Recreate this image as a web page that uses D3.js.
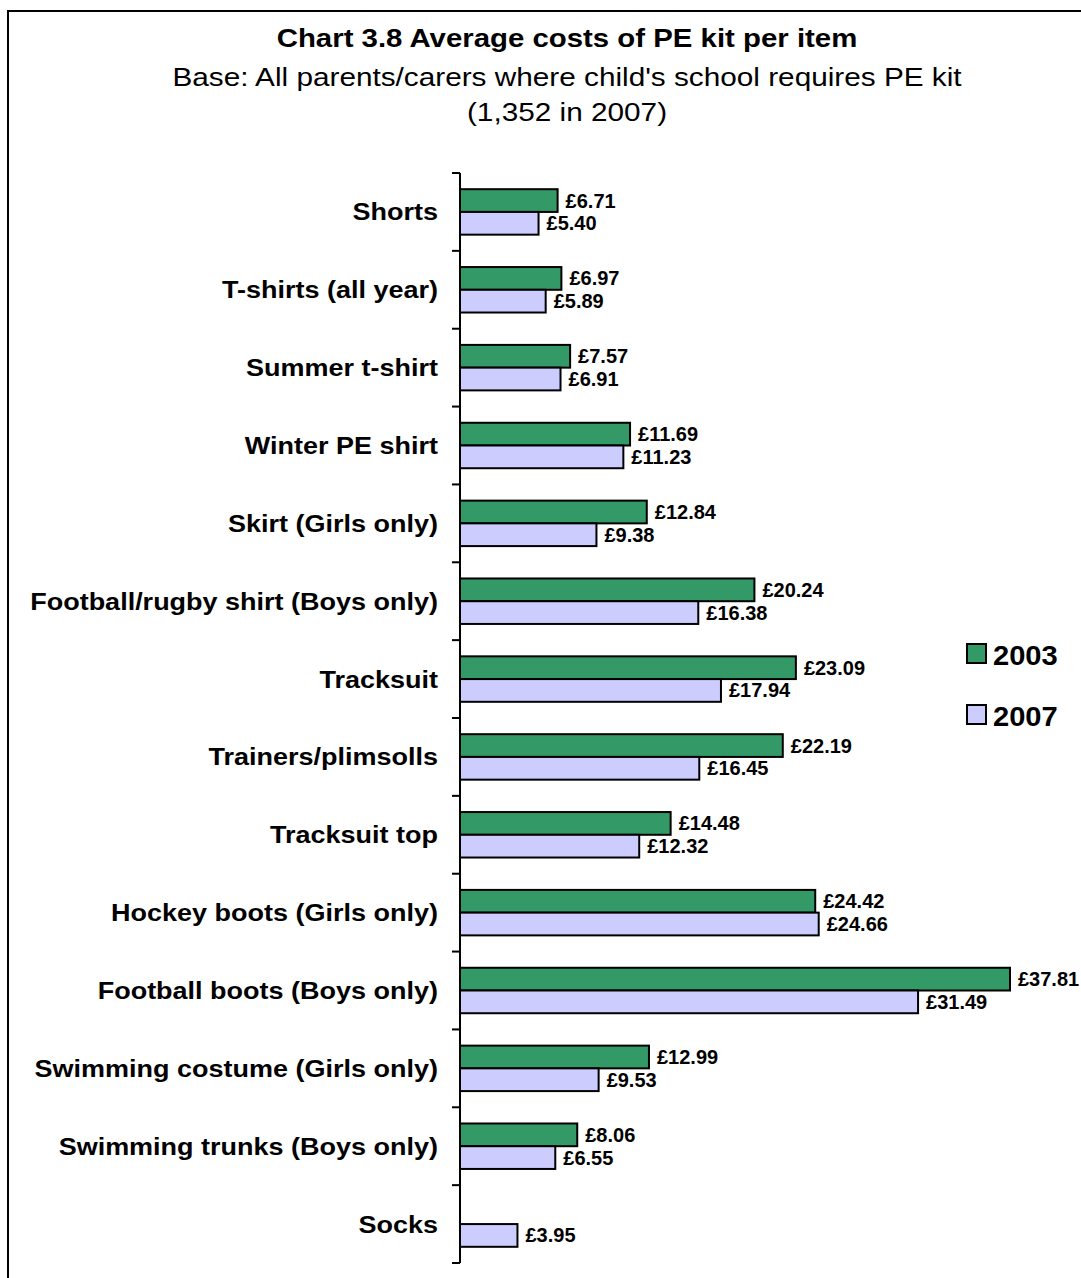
<!DOCTYPE html>
<html><head><meta charset="utf-8">
<script src="https://cdn.jsdelivr.net/npm/d3@7"></script>
<style>body{margin:0;background:#fff}svg{display:block}</style>
</head><body><svg id="c" width="1081" height="1278"></svg>
<script>
const categories = ["Shorts","T-shirts (all year)","Summer t-shirt","Winter PE shirt","Skirt (Girls only)","Football/rugby shirt (Boys only)","Tracksuit","Trainers/plimsolls","Tracksuit top","Hockey boots (Girls only)","Football boots (Boys only)","Swimming costume (Girls only)","Swimming trunks (Boys only)","Socks"];
const series = ["2003","2007"];
const values2003 = [6.71,6.97,7.57,11.69,12.84,20.24,23.09,22.19,14.48,24.42,37.81,12.99,8.06,null];
const values2007 = [5.40,5.89,6.91,11.23,9.38,16.38,17.94,16.45,12.32,24.66,31.49,9.53,6.55,3.95];
const colors = ["#339966","#CCCCFF"];
const titleLines = ["Chart 3.8 Average costs of PE kit per item","Base: All parents/carers where child's school requires PE kit","(1,352 in 2007)"];

const FONT = "'Liberation Sans', Arial, sans-serif";
const svg = d3.select("#c");

// frame
svg.append("rect").attr("x",8).attr("y",11).attr("width",1100).attr("height",1300)
  .attr("fill","none").attr("stroke","#000").attr("stroke-width",2);

function txt(x,y,s,opts){
  return svg.append("text")
    .attr("transform",`translate(${x},${y}) scale(${opts.sx||1},1)`)
    .attr("font-family",FONT).attr("font-size",opts.size)
    .attr("font-weight",opts.bold?"bold":"normal")
    .attr("text-anchor",opts.anchor||"start").attr("fill","#000").text(s);
}

// titles
txt(567,47,titleLines[0],{size:26,sx:1.13,bold:true,anchor:"middle"});
txt(567,86,titleLines[1],{size:25,sx:1.19,anchor:"middle"});
txt(567,121,titleLines[2],{size:25,sx:1.19,anchor:"middle"});

const x = d3.scaleLinear().domain([0,37.81]).range([460,1010]);
const y = d3.scaleBand().domain(categories).range([173,1263]).paddingInner(0.416).paddingOuter(0.208);
const ys = d3.scaleBand().domain(series).range([0,y.bandwidth()]);

const rows = categories.map((c,i)=>({c, vals:[values2003[i],values2007[i]]}));

rows.forEach(r=>{
  r.vals.forEach((v,k)=>{
    if(v==null) return;
    const by = y(r.c)+ys(series[k]);
    svg.append("rect").attr("x",x(0)).attr("y",by).attr("width",x(v)-x(0)).attr("height",ys.bandwidth())
      .attr("fill",colors[k]).attr("stroke","#000").attr("stroke-width",2);
    txt(x(v)+8, by+ys.bandwidth()/2+7, "£"+v.toFixed(2), {size:20,sx:1.0,bold:true});
  });
  txt(438, y(r.c)+y.bandwidth()/2+8.5, r.c, {size:24,sx:1.125,bold:true,anchor:"end"});
});

// axis
const step = y.step();
const y0 = y.range()[0];
svg.append("line").attr("x1",460).attr("x2",460).attr("y1",y0).attr("y2",y0+step*categories.length)
  .attr("stroke","#000").attr("stroke-width",2);
d3.range(categories.length+1).forEach(i=>{
  svg.append("line").attr("x1",452).attr("x2",460).attr("y1",y0+i*step).attr("y2",y0+i*step)
    .attr("stroke","#000").attr("stroke-width",2);
});

// legend
series.forEach((s,k)=>{
  const ly = 644 + k*61;
  svg.append("rect").attr("x",967).attr("y",ly).attr("width",19).attr("height",19)
    .attr("fill",colors[k]).attr("stroke","#000").attr("stroke-width",2);
  txt(993, ly+21, s, {size:28,sx:1.04,bold:true});
});
</script></body></html>
